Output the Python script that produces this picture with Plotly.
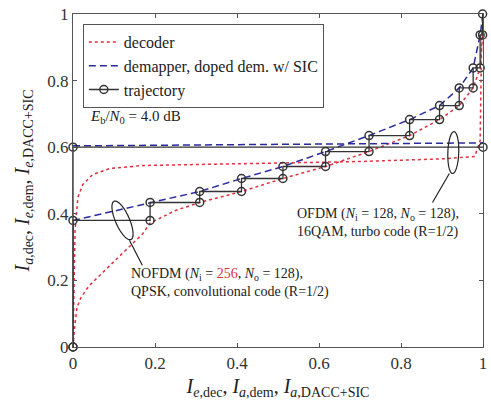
import math
import plotly.graph_objects as go

# ---------------- data ----------------
# NOFDM (QPSK, convolutional code) decoder EXIT curve (x = I_e,dec, y = I_a,dec)
nofdm_dec_x = [0, 0.004, 0.01, 0.02, 0.04, 0.065, 0.09, 0.13, 0.17, 0.188, 0.25, 0.309, 0.411,
               0.512, 0.616, 0.722, 0.821, 0.894, 0.942, 0.976, 0.993, 0.999, 1.0]
nofdm_dec_y = [0, 0.06, 0.12, 0.15, 0.185, 0.215, 0.245, 0.29, 0.34, 0.372, 0.41, 0.434, 0.467,
               0.506, 0.542, 0.587, 0.635, 0.683, 0.725, 0.778, 0.838, 0.937, 1.0]

# OFDM (16QAM, turbo code) decoder EXIT curve
ofdm_dec_x = [0, 0.002, 0.005, 0.012, 0.024, 0.048, 0.09, 0.17, 0.3, 0.5, 0.7, 0.9, 0.98,
              0.993, 0.995, 0.997, 1.0]
ofdm_dec_y = [0, 0.2, 0.35, 0.45, 0.488, 0.518, 0.536, 0.545, 0.548, 0.552, 0.557, 0.565,
              0.572, 0.62, 0.75, 0.95, 1.0]

# NOFDM doped demapper w/ SIC
nofdm_dem_x = [0, 0.188, 0.309, 0.411, 0.512, 0.616, 0.722, 0.821, 0.894, 0.942, 0.976, 0.993, 1.0]
nofdm_dem_y = [0.38, 0.434, 0.467, 0.506, 0.542, 0.587, 0.635, 0.683, 0.725, 0.778, 0.838, 0.937, 1.0]

# OFDM demapper
ofdm_dem_x = [0, 1]
ofdm_dem_y = [0.604, 0.613]

# NOFDM trajectory
traj1_x = [0, 0, 0.188, 0.188, 0.309, 0.309, 0.411, 0.411, 0.512, 0.512, 0.616, 0.616,
           0.722, 0.722, 0.821, 0.821, 0.894, 0.894, 0.942, 0.942, 0.976, 0.976, 0.993,
           0.993, 0.999, 0.999]
traj1_y = [0, 0.38, 0.38, 0.434, 0.434, 0.467, 0.467, 0.506, 0.506, 0.542, 0.542, 0.587,
           0.587, 0.635, 0.635, 0.683, 0.683, 0.725, 0.725, 0.778, 0.778, 0.838, 0.838,
           0.937, 0.937, 1.0]

# OFDM trajectory
traj2_x = [0, 0, 1]
traj2_y = [0, 0.6, 0.6]

tick_vals = [0, 0.2, 0.4, 0.6, 0.8, 1]
tick_text = ["0", "0.2", "0.4", "0.6", "0.8", "1"]

# ---------------- style ----------------
W, H = 491, 400
ML, MR, MT, MB = 73, 4, 14, 52
PW, PH = W - ML - MR, H - MT - MB
SERIF = "Liberation Serif, Times New Roman, serif"
RED = "#e0303c"
BLUE = "#2a2aa0"
BLACK = "#333333"

fig = go.Figure()

fig.add_trace(go.Scatter(x=nofdm_dec_x, y=nofdm_dec_y, mode="lines", name="decoder",
                         line=dict(color=RED, width=1.5, dash="dot"), showlegend=True,
                         cliponaxis=False))
fig.add_trace(go.Scatter(x=ofdm_dec_x, y=ofdm_dec_y, mode="lines", name="decoder",
                         line=dict(color=RED, width=1.5, dash="dot"), showlegend=False,
                         cliponaxis=False))
fig.add_trace(go.Scatter(x=nofdm_dem_x, y=nofdm_dem_y, mode="lines",
                         name="demapper, doped dem. w/ SIC",
                         line=dict(color=BLUE, width=1.5, dash="7px,4px"), showlegend=True,
                         cliponaxis=False))
fig.add_trace(go.Scatter(x=ofdm_dem_x, y=ofdm_dem_y, mode="lines", name="demapper",
                         line=dict(color=BLUE, width=1.5, dash="7px,4px"), showlegend=False,
                         cliponaxis=False))
fig.add_trace(go.Scatter(x=traj1_x, y=traj1_y, mode="lines+markers", name="trajectory",
                         line=dict(color=BLACK, width=1.3),
                         marker=dict(symbol="circle-open", size=8, color=BLACK,
                                     line=dict(width=1.5, color=BLACK)),
                         showlegend=True, cliponaxis=False))
fig.add_trace(go.Scatter(x=traj2_x, y=traj2_y, mode="lines+markers", name="trajectory",
                         line=dict(color=BLACK, width=1.3),
                         marker=dict(symbol="circle-open", size=8, color=BLACK,
                                     line=dict(width=1.5, color=BLACK)),
                         showlegend=False, cliponaxis=False))


def px2data(px, py):
    return (px - ML) / PW, (MT + PH - py) / PH


def ellipse_path(cpx, cpy, a, b, ang_deg, n=72):
    phi = math.radians(ang_deg)
    pts = []
    for k in range(n + 1):
        t = 2 * math.pi * k / n
        sx = cpx + a * math.cos(t) * math.cos(phi) - b * math.sin(t) * math.sin(phi)
        sy = cpy + a * math.cos(t) * math.sin(phi) + b * math.sin(t) * math.cos(phi)
        dx, dy = px2data(sx, sy)
        pts.append(f"{dx:.5f},{dy:.5f}")
    return "M " + " L ".join(pts) + " Z"


shapes = [
    dict(type="path", xref="x", yref="y", path=ellipse_path(123, 221, 21, 7, 66),
         line=dict(color="#222", width=1.2)),
    dict(type="path", xref="x", yref="y", path=ellipse_path(457, 153, 21, 5.5, 92),
         line=dict(color="#222", width=1.2)),
]
x0, y0 = px2data(130, 241)
x1, y1 = px2data(143, 266)
shapes.append(dict(type="line", xref="x", yref="y", x0=x0, y0=y0, x1=x1, y1=y1,
                   line=dict(color="#222", width=1.2)))
x0, y0 = px2data(453, 174)
x1, y1 = px2data(436, 203)
shapes.append(dict(type="line", xref="x", yref="y", x0=x0, y0=y0, x1=x1, y1=y1,
                   line=dict(color="#222", width=1.2)))

annotations = []
ax, ay = px2data(88, 117)
annotations.append(dict(x=ax, y=ay, xref="x", yref="y", xanchor="left", yanchor="middle",
                        showarrow=False,
                        text="<i>E</i><sub>b</sub>/<i>N</i><sub>0</sub> = 4.0 dB",
                        font=dict(family=SERIF, size=15, color="#222")))
ax, ay = px2data(130, 265)
annotations.append(dict(x=ax, y=ay, xref="x", yref="y", xanchor="left", yanchor="top",
                        showarrow=False, align="left",
                        text=("NOFDM (<i>N</i><sub>i</sub> = <span style='color:#e0303c'>256</span>, "
                              "<i>N</i><sub>o</sub> = 128),<br>QPSK, convolutional code (R=1/2)"),
                        font=dict(family=SERIF, size=14, color="#222")))
ax, ay = px2data(297, 205)
annotations.append(dict(x=ax, y=ay, xref="x", yref="y", xanchor="left", yanchor="top",
                        showarrow=False, align="left",
                        text=("OFDM (<i>N</i><sub>i</sub> = 128, <i>N</i><sub>o</sub> = 128),"
                              "<br>16QAM, turbo code (R=1/2)"),
                        font=dict(family=SERIF, size=14, color="#222")))

axis_common = dict(range=[0, 1], tickvals=tick_vals, ticktext=tick_text, ticks="inside",
                   ticklen=4, tickcolor="#555", showline=True, linecolor="#555", linewidth=1.2,
                   mirror="ticks", showgrid=False, zeroline=False, ticklabeloverflow="allow",
                   tickfont=dict(family=SERIF, size=17, color="#333"))

fig.update_layout(
    width=W, height=H,
    margin=dict(l=ML, r=MR, t=MT, b=MB),
    paper_bgcolor="white", plot_bgcolor="white",
    font=dict(family=SERIF, color="#222"),
    xaxis=dict(**axis_common,
               title=dict(text=("<i>I</i><sub><i>e</i>,dec</sub>, <i>I</i><sub><i>a</i>,dem</sub>, "
                                "<i>I</i><sub><i>a</i>,DACC+SIC</sub>"),
                          font=dict(family=SERIF, size=20, color="#222"), standoff=9)),
    yaxis=dict(**axis_common,
               title=dict(text=("<i>I</i><sub><i>a</i>,dec</sub>, <i>I</i><sub><i>e</i>,dem</sub>, "
                                "<i>I</i><sub><i>e</i>,DACC+SIC</sub>"),
                          font=dict(family=SERIF, size=20, color="#222"), standoff=12)),
    legend=dict(x=0.024, y=0.97, xanchor="left", yanchor="top",
                bgcolor="white", bordercolor="#555", borderwidth=1,
                font=dict(family=SERIF, size=16, color="#222"),
                tracegroupgap=0, itemwidth=30),
    shapes=shapes, annotations=annotations,
)

fig.write_html("out.html", config={"displayModeBar": False},
               post_script="document.body.style.margin='0';document.body.style.overflow='hidden';")
